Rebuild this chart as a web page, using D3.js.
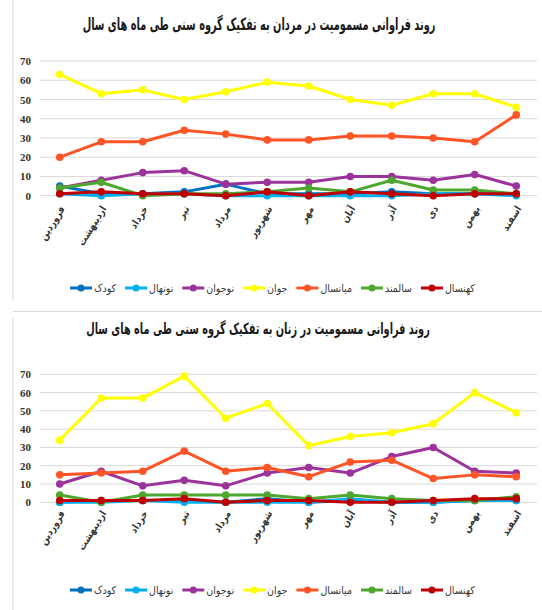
<!DOCTYPE html>
<html><head><meta charset="utf-8">
<script src="https://cdn.jsdelivr.net/npm/d3@7"></script>
<style>body{margin:0;background:#fff}svg{display:block}</style>
</head><body>
<svg id="c" width="542" height="610"></svg>
<script>
const months = ["فروردین","اردیبهشت","خرداد","تیر","مرداد","شهریور","مهر","آبان","آذر","دی","بهمن","اسفند"];
const seriesNames = ["کودک","نونهال","نوجوان","جوان","میانسال","سالمند","کهنسال"];
const seriesColors = ["#0070C0","#00B0F0","#9B339B","#FFFF00","#FF5526","#4EA72E","#C00000"];
const yTicks = [0,10,20,30,40,50,60,70];
const titleMen = "روند فراوانی مسمومیت در مردان به تفکیک گروه سنی طی ماه های سال";
const titleWomen = "روند فراوانی مسمومیت در زنان به تفکیک گروه سنی طی ماه های سال";

// Men
const menKoodak   = [5,1,1,2,6,1,1,1,2,1,1,1];
const menNonahal  = [1,0,1,1,0,0,0,0,0,1,1,0];
const menNojavan  = [4,8,12,13,6,7,7,10,10,8,11,5];
const menJavan    = [63,53,55,50,54,59,57,50,47,53,53,46];
const menMiansal  = [20,28,28,34,32,29,29,31,31,30,28,42];
const menSalmand  = [4,7,0,1,1,2,4,2,8,3,3,1];
const menKohansal = [1,2,1,1,0,2,0,2,1,0,1,1];
// Women
const womKoodak   = [0,1,1,1,0,2,0,1,0,0,1,1];
const womNonahal  = [0,0,1,0,0,0,0,2,0,0,1,1];
const womNojavan  = [10,17,9,12,9,16,19,16,25,30,17,16];
const womJavan    = [34,57,57,69,46,54,31,36,38,43,60,49];
const womMiansal  = [15,16,17,28,17,19,14,22,23,13,15,14];
const womSalmand  = [4,0,4,4,4,4,2,4,2,1,1,3];
const womKohansal = [1,1,1,2,0,1,1,0,0,1,2,2];

const menData = [menKoodak,menNonahal,menNojavan,menJavan,menMiansal,menSalmand,menKohansal];
const womData = [womKoodak,womNonahal,womNojavan,womJavan,womMiansal,womSalmand,womKohansal];

const svg = d3.select("#c");
const faFont = "'DejaVu Sans Condensed', 'DejaVu Sans', sans-serif";

// panel borders
svg.append("line").attr("x1",13).attr("x2",13).attr("y1",0).attr("y2",300).attr("stroke","#d9d9d9");
svg.append("line").attr("x1",13).attr("x2",542).attr("y1",311.5).attr("y2",311.5).attr("stroke","#d9d9d9");
svg.append("line").attr("x1",13).attr("x2",13).attr("y1",318).attr("y2",610).attr("stroke","#d9d9d9");

function drawChart(cfg){
  const g = svg.append("g");
  const tt = g.append("text").attr("x",0).attr("y",0).attr("text-anchor","middle")
    .attr("font-family",faFont).attr("font-weight","bold").attr("font-size",cfg.titleFs)
    .attr("fill","#1a1a1a").text(cfg.title);
  const tw = tt.node().getComputedTextLength();
  tt.attr("transform",`translate(${cfg.titleX},${cfg.titleY}) scale(${Math.min(1,cfg.titleW/tw)},1)`);
  const x = d3.scalePoint().domain(months).range([39,537]).padding(0.5);
  const y = d3.scaleLinear().domain([0,70]).range([cfg.y0,cfg.y70]);
  // grid
  g.append("g").selectAll("line").data(yTicks).join("line")
    .attr("x1",40).attr("x2",537).attr("y1",d=>y(d)).attr("y2",d=>y(d))
    .attr("stroke","#d9d9d9").attr("stroke-width",1);
  const ya = g.append("g").attr("transform","translate(33,0)")
    .call(d3.axisLeft(y).tickValues(yTicks).tickSize(0).tickPadding(2));
  ya.select(".domain").remove();
  ya.selectAll("text").attr("font-family","'Liberation Serif', serif").attr("font-weight","bold")
    .attr("font-size",11).attr("fill","#333");
  // x labels
  const xa = g.append("g").attr("transform",`translate(0,${cfg.y0})`)
    .call(d3.axisBottom(x).tickSize(0).tickPadding(0));
  xa.select(".domain").remove();
  xa.selectAll("text").attr("font-family",faFont).attr("font-weight","bold").attr("font-size",10).attr("fill","#333")
    .attr("text-anchor","end").attr("dy",0)
    .attr("transform",d=>`translate(5,${cfg.labelDy}) rotate(-58)`);
  // lines
  const line = d3.line().x((d,i)=>x(months[i])).y(d=>y(d));
  cfg.data.forEach((arr,si)=>{
    const s = g.append("g");
    s.append("path").datum(arr).attr("d",line).attr("fill","none")
      .attr("stroke",seriesColors[si]).attr("stroke-width",3).attr("stroke-linejoin","round");
    s.selectAll("circle").data(arr).join("circle")
      .attr("cx",(d,i)=>x(months[i])).attr("cy",d=>y(d)).attr("r",3.8)
      .attr("fill",seriesColors[si]);
  });
  // legend
  const lg = g.append("g");
  let cx = 70;
  seriesNames.forEach((n,si)=>{
    const it = lg.append("g").attr("transform",`translate(${cx},${cfg.legY})`);
    it.append("line").attr("x1",0).attr("x2",22).attr("stroke",seriesColors[si]).attr("stroke-width",3);
    it.append("circle").attr("cx",11).attr("r",3.5).attr("fill",seriesColors[si]);
    const t = it.append("text").attr("x",24).attr("dy","0.35em").attr("font-family",faFont)
      .attr("font-size",10.5).attr("fill","#333").text(n);
    const w = t.node().getComputedTextLength();
    cx += 24 + w + 9;
  });
}

drawChart({title:titleMen,titleX:259,titleW:353,titleFs:17,titleY:30,y0:195.7,y70:61,labelDy:13,legY:288,data:menData});
drawChart({title:titleWomen,titleX:258,titleW:344,titleFs:15.5,titleY:334,y0:502.3,y70:374.3,labelDy:11,legY:590,data:womData});
</script>
</body></html>
